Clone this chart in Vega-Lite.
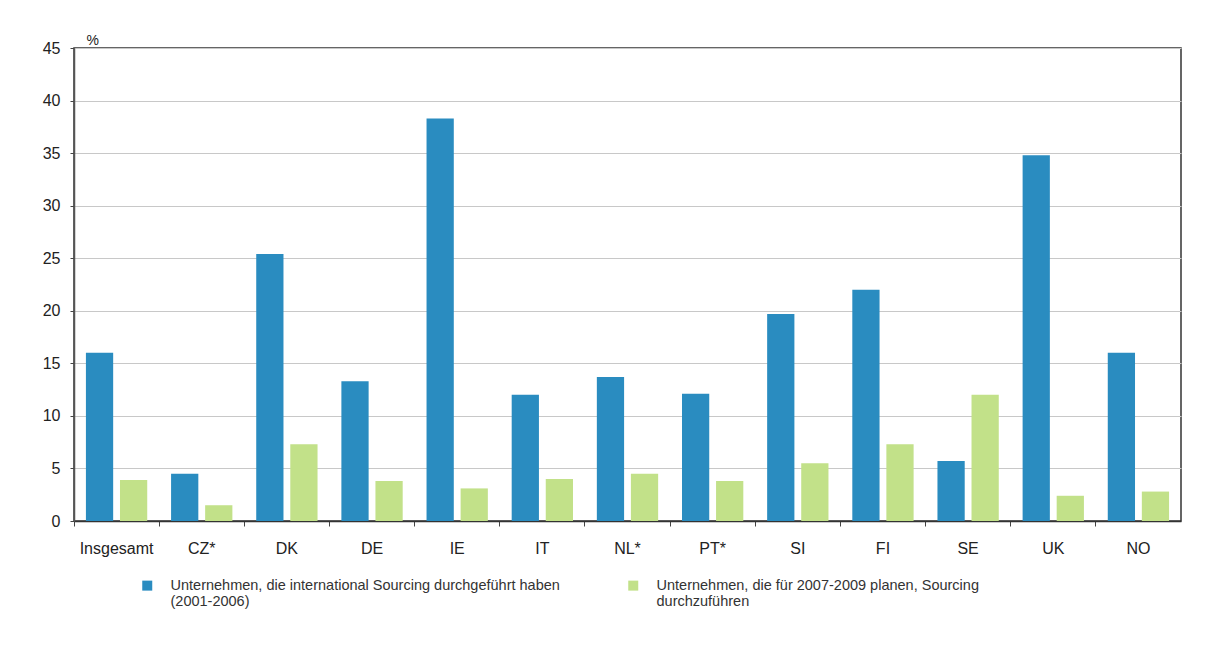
{
  "$schema": "https://vega.github.io/schema/vega-lite/v6.json",
  "width": 1107,
  "height": 473,
  "autosize": {"type": "none"},
  "padding": {"left": 74, "top": 48, "right": 46, "bottom": 125},
  "background": "white",
  "data": {
    "values": [
      {"land": "Insgesamt", "serie": "Unternehmen, die international Sourcing durchgeführt haben|(2001-2006)", "wert": 16.0},
      {"land": "Insgesamt", "serie": "Unternehmen, die für 2007-2009 planen, Sourcing|durchzuführen", "wert": 3.9},
      {"land": "CZ*", "serie": "Unternehmen, die international Sourcing durchgeführt haben|(2001-2006)", "wert": 4.5},
      {"land": "CZ*", "serie": "Unternehmen, die für 2007-2009 planen, Sourcing|durchzuführen", "wert": 1.5},
      {"land": "DK", "serie": "Unternehmen, die international Sourcing durchgeführt haben|(2001-2006)", "wert": 25.4},
      {"land": "DK", "serie": "Unternehmen, die für 2007-2009 planen, Sourcing|durchzuführen", "wert": 7.3},
      {"land": "DE", "serie": "Unternehmen, die international Sourcing durchgeführt haben|(2001-2006)", "wert": 13.3},
      {"land": "DE", "serie": "Unternehmen, die für 2007-2009 planen, Sourcing|durchzuführen", "wert": 3.8},
      {"land": "IE", "serie": "Unternehmen, die international Sourcing durchgeführt haben|(2001-2006)", "wert": 38.3},
      {"land": "IE", "serie": "Unternehmen, die für 2007-2009 planen, Sourcing|durchzuführen", "wert": 3.1},
      {"land": "IT", "serie": "Unternehmen, die international Sourcing durchgeführt haben|(2001-2006)", "wert": 12.0},
      {"land": "IT", "serie": "Unternehmen, die für 2007-2009 planen, Sourcing|durchzuführen", "wert": 4.0},
      {"land": "NL*", "serie": "Unternehmen, die international Sourcing durchgeführt haben|(2001-2006)", "wert": 13.7},
      {"land": "NL*", "serie": "Unternehmen, die für 2007-2009 planen, Sourcing|durchzuführen", "wert": 4.5},
      {"land": "PT*", "serie": "Unternehmen, die international Sourcing durchgeführt haben|(2001-2006)", "wert": 12.1},
      {"land": "PT*", "serie": "Unternehmen, die für 2007-2009 planen, Sourcing|durchzuführen", "wert": 3.8},
      {"land": "SI", "serie": "Unternehmen, die international Sourcing durchgeführt haben|(2001-2006)", "wert": 19.7},
      {"land": "SI", "serie": "Unternehmen, die für 2007-2009 planen, Sourcing|durchzuführen", "wert": 5.5},
      {"land": "FI", "serie": "Unternehmen, die international Sourcing durchgeführt haben|(2001-2006)", "wert": 22.0},
      {"land": "FI", "serie": "Unternehmen, die für 2007-2009 planen, Sourcing|durchzuführen", "wert": 7.3},
      {"land": "SE", "serie": "Unternehmen, die international Sourcing durchgeführt haben|(2001-2006)", "wert": 5.7},
      {"land": "SE", "serie": "Unternehmen, die für 2007-2009 planen, Sourcing|durchzuführen", "wert": 12.0},
      {"land": "UK", "serie": "Unternehmen, die international Sourcing durchgeführt haben|(2001-2006)", "wert": 34.8},
      {"land": "UK", "serie": "Unternehmen, die für 2007-2009 planen, Sourcing|durchzuführen", "wert": 2.4},
      {"land": "NO", "serie": "Unternehmen, die international Sourcing durchgeführt haben|(2001-2006)", "wert": 16.0},
      {"land": "NO", "serie": "Unternehmen, die für 2007-2009 planen, Sourcing|durchzuführen", "wert": 2.8}
    ]
  },
  "mark": {"type": "bar"},
  "encoding": {
    "x": {
      "field": "land",
      "type": "nominal",
      "sort": null,
      "scale": {"paddingInner": 0, "paddingOuter": 0},
      "axis": {
        "title": null,
        "labelAngle": 0,
        "labelFont": "Liberation Sans",
        "labelFontSize": 16,
        "labelColor": "#222222",
        "labelPadding": 14,
        "bandPosition": 0,
        "tickSize": 5,
        "tickColor": "#444444",
        "domainColor": "#333333",
        "domainWidth": 1.5
      }
    },
    "xOffset": {
      "field": "serie",
      "type": "nominal",
      "sort": null,
      "scale": {"paddingInner": 0.2, "paddingOuter": 0.35}
    },
    "y": {
      "field": "wert",
      "type": "quantitative",
      "scale": {"domain": [0, 45], "nice": false},
      "axis": {
        "values": [0, 5, 10, 15, 20, 25, 30, 35, 40, 45],
        "title": "%",
        "titleAngle": 0,
        "titleX": 12,
        "titleY": -1,
        "titleAlign": "left",
        "titleBaseline": "bottom",
        "titleFont": "Liberation Sans",
        "titleFontSize": 14,
        "titleFontWeight": "normal",
        "titleColor": "#222222",
        "labelFont": "Liberation Sans",
        "labelFontSize": 16,
        "labelColor": "#222222",
        "labelPadding": 10,
        "tickSize": 4,
        "tickColor": "#444444",
        "domainColor": "#555555",
        "domainWidth": 1.5,
        "gridColor": "#c8c8c8",
        "gridWidth": 1
      }
    },
    "color": {
      "field": "serie",
      "type": "nominal",
      "sort": null,
      "scale": {"range": ["#2a8cc0", "#c2e189"]},
      "legend": {
        "title": null,
        "orient": "none",
        "legendX": 66,
        "legendY": 530,
        "direction": "horizontal",
        "columns": 2,
        "columnPadding": 66,
        "symbolType": "square",
        "symbolSize": 100,
        "symbolStrokeWidth": 0,
        "labelOffset": 16,
        "labelLimit": 0,
        "labelFont": "Liberation Sans",
        "labelFontSize": 14.5,
        "labelColor": "#333333",
        "labelExpr": "split(datum.label, '|')",
        "padding": 0
      }
    }
  },
  "config": {
    "view": {"stroke": "#333333", "strokeWidth": 1.5},
    "legend": {"labelLineHeight": 17}
  }
}
